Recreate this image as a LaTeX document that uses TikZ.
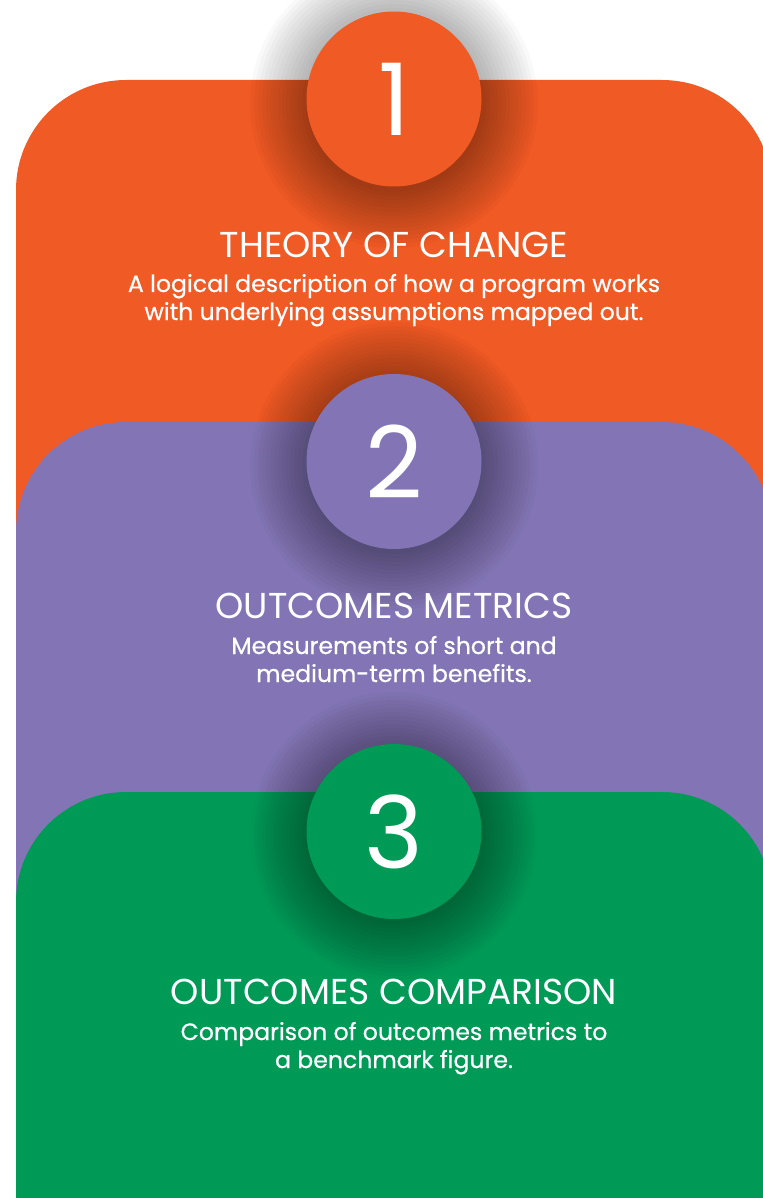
\documentclass[tikz,border=0pt]{standalone}
\usepackage{fontspec}
\setmainfont{Poppins}
\newfontfamily\stepbodyfont[FakeBold=0.6]{Poppins}
\usetikzlibrary{positioning}

\definecolor{tocorange}{RGB}{240,90,36}
\definecolor{metpurple}{RGB}{131,117,181}
\definecolor{cmpgreen}{RGB}{0,154,87}

% soft shadow behind a number disc, built from thin rings
\newcommand{\discshadow}[1]{%
  \foreach \r in {44,46,...,72} {\fill[black,opacity=.022] #1 circle (\r pt);}}

\tikzset{panel/.style={rounded corners=55pt},
  numdisc/.style={circle,minimum size=87.5pt,inner sep=0pt,text=white,font=\fontsize{50}{50}\selectfont},
  steptitle/.style={anchor=base,text=white,font=\fontsize{18}{20}\selectfont},
  stepbody/.style={anchor=base,align=center,text=white,font=\stepbodyfont\fontsize{11.8}{14}\selectfont}}

\begin{document}
\begin{tikzpicture}[x=.5pt,y=-.5pt]

\useasboundingbox (0,0) rectangle (763,1198);
\clip (0,0) rectangle (763,1198);

% Step 1
\fill[tocorange,panel] (16,1400) -- (16,80) -- (772,80) -- (772,1400) -- cycle;
\discshadow{(394,104)}
\node[numdisc,fill=tocorange] (num1) at (394,99) {1};
\node[steptitle] (title1) at (394,257) {THEORY OF CHANGE};
\node[stepbody] (text1) at (394,320) {A logical description of how a program works\\with underlying assumptions mapped out.};

% Step 2
\fill[metpurple,panel] (16,1400) -- (16,422) -- (772,422) -- (772,1400) -- cycle;
\discshadow{(394,466)}
\node[numdisc,fill=metpurple] (num2) at (394,461.5) {2};
\node[steptitle] (title2) at (394,618) {OUTCOMES METRICS};
\node[stepbody] (text2) at (394,682) {Measurements of short and\\medium-term benefits.};

% Step 3
\fill[cmpgreen,panel] (16,1400) -- (16,792) -- (772,792) -- (772,1400) -- cycle;
\discshadow{(394,836)}
\node[numdisc,fill=cmpgreen] (num3) at (394,831.5) {3};
\node[steptitle] (title3) at (394,1004) {OUTCOMES COMPARISON};
\node[stepbody] (text3) at (394,1068) {Comparison of outcomes metrics to\\a benchmark figure.};

\end{tikzpicture}
\end{document}
